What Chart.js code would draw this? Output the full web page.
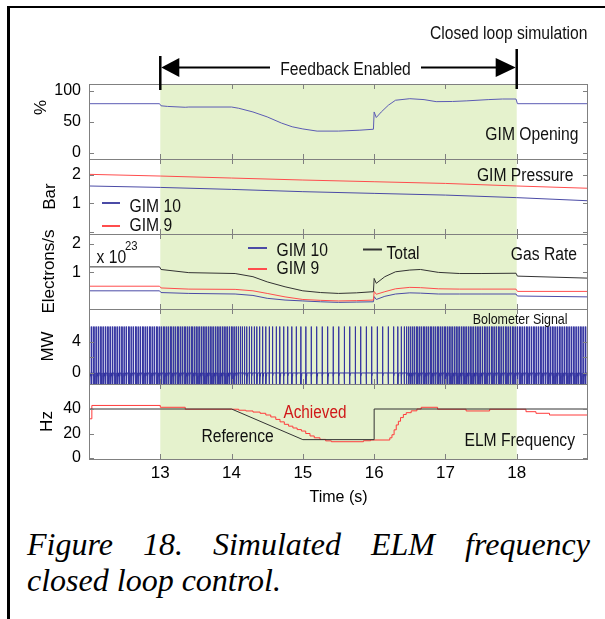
<!DOCTYPE html>
<html>
<head>
<meta charset="utf-8">
<script src="https://cdn.jsdelivr.net/npm/chart.js@4.4.1/dist/chart.umd.min.js"></script>
<style>
  body { margin: 0; background: #fff; }
  #wrap { position: relative; width: 605px; height: 619px; overflow: hidden; }
  #chart { position: absolute; left: 0; top: 0; }
  #lineTop { position: absolute; left: 7px; top: 6px; width: 598px; height: 2px; background: #000; }
  #lineLeft { position: absolute; left: 7px; top: 6px; width: 3px; height: 613px; background: #000; }
  .cap { position: absolute; left: 27px; width: 563px; font: italic 32px "Liberation Serif", "Times New Roman", serif; line-height: 36px; color: #000; }
  #cap1 { top: 526px; text-align: justify; text-align-last: justify; }
  #cap2 { top: 562px; white-space: nowrap; }
</style>
</head>
<body>
<div id="wrap">
  <canvas id="chart" width="605" height="520"></canvas>
  <div id="lineTop"></div>
  <div id="lineLeft"></div>
  <div class="cap" id="cap1">Figure 18. Simulated ELM frequency</div>
  <div class="cap" id="cap2">closed loop control.</div>
</div>
<script>
// x axis
const timeTicks = [13, 14, 15, 16, 17, 18]
const feedbackWindow = [13, 18]

// GIM opening (%)
const openT = [12, 12.99, 13.01, 13.1, 13.35, 13.4, 14.0, 14.1, 14.3, 14.5, 14.7, 14.85, 15.0, 15.2, 15.5, 15.8, 15.99, 16.0, 16.03, 16.1, 16.2, 16.3, 16.5, 16.7, 16.87, 17.1, 17.3, 17.6, 17.8, 17.99, 18.01, 19]
const openV = [79.4, 79.4, 76, 75, 73.6, 74, 74, 72, 66, 58, 48, 42, 38.5, 35, 35, 36.5, 38, 66, 57, 66, 77, 85, 87.5, 86, 82.7, 83, 84, 86, 87, 87, 79.4, 79.4]
const openTicks = [0, 50, 100]
const openLabels = ['0', '50', '100']

// GIM pressure (Bar)
const presT = [12, 13, 14, 15, 16, 17, 18, 19]
const presGim10 = [1.61, 1.56, 1.49, 1.41, 1.35, 1.29, 1.20, 1.09]
const presGim9 = [2.02, 1.96, 1.89, 1.82, 1.76, 1.70, 1.61, 1.53]
const presTicks = [0, 1, 2]
const presLabels = ['', '1', '2']

// gas rate (x 10^23 electrons/s)
const gasT = [12, 12.99, 13.01, 13.4, 14.05, 14.3, 14.5, 14.75, 15.0, 15.25, 15.5, 15.75, 15.99, 16.0, 16.03, 16.15, 16.3, 16.5, 16.65, 16.9, 17.2, 17.5, 17.99, 18.01, 19]
const gasTotal = [1.19, 1.19, 1.10, 0.99, 0.96, 0.85, 0.67, 0.50, 0.36, 0.30, 0.27, 0.29, 0.33, 0.79, 0.62, 0.85, 1.02, 1.08, 1.10, 1.00, 0.96, 0.96, 0.97, 0.87, 0.80]
const gasGim9 = [0.52, 0.52, 0.46, 0.42, 0.41, 0.36, 0.27, 0.15, 0.06, 0.03, 0.01, 0.02, 0.04, 0.34, 0.24, 0.33, 0.43, 0.48, 0.47, 0.43, 0.42, 0.42, 0.42, 0.34, 0.34]
const gasGim10 = [0.36, 0.36, 0.30, 0.27, 0.25, 0.20, 0.10, 0.04, 0.01, -0.02, -0.04, -0.03, -0.02, 0.16, 0.06, 0.17, 0.25, 0.29, 0.28, 0.25, 0.25, 0.25, 0.25, 0.18, 0.15]
const gasTicks = [1, 2]
const gasLabels = ['1', '2']

// bolometer signal (MW): one spike per ELM
const spikeTimes = [
  12.010, 12.034, 12.059, 12.083, 12.108, 12.132, 12.157, 12.181, 12.206, 12.230,
  12.255, 12.279, 12.304, 12.328, 12.353, 12.377, 12.402, 12.426, 12.451, 12.475,
  12.500, 12.524, 12.549, 12.573, 12.598, 12.622, 12.647, 12.671, 12.696, 12.720,
  12.745, 12.769, 12.794, 12.818, 12.843, 12.867, 12.892, 12.916, 12.941, 12.965,
  12.990, 13.014, 13.039, 13.063, 13.088, 13.112, 13.137, 13.161, 13.186, 13.210,
  13.235, 13.259, 13.284, 13.308, 13.333, 13.357, 13.382, 13.406, 13.431, 13.455,
  13.480, 13.504, 13.529, 13.553, 13.578, 13.602, 13.627, 13.651, 13.676, 13.700,
  13.725, 13.749, 13.774, 13.798, 13.823, 13.847, 13.872, 13.896, 13.921, 13.945,
  13.970, 13.994, 14.019, 14.043, 14.068, 14.092,
  14.120, 14.150, 14.181, 14.213, 14.246, 14.280, 14.316, 14.354, 14.394, 14.436,
  14.480, 14.526, 14.574, 14.624, 14.676, 14.730, 14.786, 14.845, 14.907, 14.972,
  15.042, 15.117, 15.194, 15.271, 15.348, 15.425, 15.502, 15.579, 15.656, 15.733,
  15.810, 15.887, 15.964, 16.041, 16.118, 16.195, 16.272, 16.332, 16.380, 16.420,
  16.454, 16.485, 16.513, 16.539,
  16.563, 16.588, 16.612, 16.637, 16.661, 16.686, 16.710, 16.735, 16.759, 16.784,
  16.808, 16.833, 16.857, 16.882, 16.906, 16.931, 16.955, 16.980, 17.004, 17.029,
  17.053, 17.078, 17.102, 17.127, 17.151, 17.176, 17.200, 17.225, 17.249, 17.274,
  17.298, 17.323, 17.347, 17.372, 17.396, 17.421, 17.445, 17.470, 17.494, 17.519,
  17.543, 17.568, 17.592, 17.617, 17.641, 17.666, 17.690, 17.715, 17.739, 17.764,
  17.788, 17.813, 17.837, 17.862, 17.886, 17.911, 17.935, 17.960, 17.984, 18.009,
  18.033, 18.058, 18.082, 18.107, 18.131, 18.156, 18.180, 18.205, 18.229, 18.254,
  18.278, 18.303, 18.327, 18.352, 18.376, 18.401, 18.425, 18.450, 18.474, 18.499,
  18.523, 18.548, 18.572, 18.597, 18.621, 18.646, 18.670, 18.695, 18.719, 18.744,
  18.768, 18.793, 18.817, 18.842, 18.866, 18.891, 18.915, 18.940, 18.964, 18.989
]
const boloPeak = 5.9
const boloFloor = -1.4
const boloTail = -0.4
const boloTicks = [0, 2, 4]
const boloLabels = ['0', '', '4']

// ELM frequency (Hz)
const refT = [12, 14, 15, 16, 16, 19]
const refV = [40, 40, 15, 15, 40, 40]
const achT = [12.0, 12.04, 13.0, 13.35, 14.1, 14.2, 14.3, 14.4, 14.48, 14.55, 14.62, 14.68, 14.74, 14.8, 14.86, 14.92, 14.98, 15.04, 15.1, 15.16, 15.24, 15.32, 15.4, 15.85, 15.95, 16.22, 16.25, 16.28, 16.31, 16.34, 16.37, 16.41, 16.45, 16.52, 16.6, 16.66, 16.89, 17.29, 17.62, 18.13, 18.27, 18.46, 19.0]
const achV = [32, 42.9, 41.4, 39.8, 39.0, 38.4, 37.5, 36.5, 35.1, 33.5, 31.5, 29.5, 27.5, 26, 24.5, 23.2, 22, 20, 18, 16.5, 15.2, 14, 13.3, 14.1, 14.7, 16.5, 19, 23, 27, 30, 33, 35.5, 37, 38.5, 40, 41.4, 39.8, 38.4, 39.8, 37.8, 36.5, 35.1, 35.1]
const elmTicks = [0, 20, 40]
const elmLabels = ['0', '20', '40']

const pts = (xs, ys) => xs.map((x, i) => ({ x: x, y: ys[i] }))

let boloPts = [{ x: 12, y: 0 }]
spikeTimes.forEach(t => {
  boloPts.push({ x: t, y: 0 }, { x: t, y: boloPeak }, { x: t, y: boloFloor }, { x: t + 0.005, y: boloTail }, { x: t + 0.012, y: 0 })
})
boloPts.push({ x: 19, y: 0 })

Chart.defaults.font.family = '"Liberation Sans", Arial, sans-serif'
Chart.defaults.color = '#000'

function panelAxis(weight, min, max, ticks, labels, title, titlePad) {
  return {
    type: 'linear',
    position: 'left',
    stack: 'panels',
    stackWeight: 1,
    weight: weight,
    min: min,
    max: max,
    grid: { display: false, drawTicks: false },
    border: { display: false },
    afterBuildTicks: s => { s.ticks = ticks.map(v => ({ value: v })) },
    afterFit: s => { s.width = 79 },
    ticks: {
      autoSkip: false,
      padding: 8,
      font: { size: 16 },
      callback: (v, i) => labels[i]
    },
    title: { display: true, text: title, font: { size: 17 }, padding: { top: titlePad, bottom: 0 } }
  }
}

function text(ctx, s, x, y, opt) {
  opt = opt || {}
  ctx.save()
  ctx.font = (opt.size || 18) + 'px "Liberation Sans", Arial, sans-serif'
  ctx.fillStyle = opt.color || '#111'
  ctx.textAlign = opt.align || 'left'
  ctx.textBaseline = 'alphabetic'
  ctx.translate(x, y)
  ctx.scale(opt.sx || 0.87, 1)
  ctx.fillText(s, 0, 0)
  ctx.restore()
}

function seg(ctx, x1, y1, x2, y2) {
  ctx.beginPath()
  ctx.moveTo(x1, y1)
  ctx.lineTo(x2, y2)
  ctx.stroke()
}

const panelIds = ['yOpen', 'yPres', 'yGas', 'yBolo', 'yElm']

const decor = {
  id: 'decor',
  beforeDatasetsDraw(chart) {
    const { ctx, chartArea: a, scales } = chart
    const x0 = scales.x.getPixelForValue(feedbackWindow[0])
    const x1 = scales.x.getPixelForValue(feedbackWindow[1])
    ctx.save()
    ctx.fillStyle = 'rgb(229,242,205)'
    ctx.fillRect(x0, a.top, x1 - x0, a.bottom - a.top)
    ctx.restore()
  },
  afterDatasetsDraw(chart) {
    const { ctx, chartArea: a, scales } = chart
    ctx.save()
    // panel frames and inner ticks
    ctx.strokeStyle = '#808080'
    ctx.lineWidth = 1
    panelIds.forEach(id => {
      const s = scales[id]
      ctx.strokeRect(a.left + 0.5, Math.round(s.top) + 0.5, a.right - a.left - 1, Math.round(s.bottom - s.top))
      s.ticks.forEach(t => {
        const py = Math.round(s.getPixelForValue(t.value)) + 0.5
        seg(ctx, a.left, py, a.left + 5, py)
        seg(ctx, a.right - 5, py, a.right, py)
      })
      scales.x.ticks.forEach(t => {
        const px = Math.round(scales.x.getPixelForValue(t.value)) + 0.5
        seg(ctx, px, s.top, px, s.top + 5)
        seg(ctx, px, s.bottom - 5, px, s.bottom)
      })
    })

    // feedback arrow
    const x0 = scales.x.getPixelForValue(feedbackWindow[0])
    const x1 = scales.x.getPixelForValue(feedbackWindow[1])
    const ya = 67.5
    ctx.strokeStyle = '#000'
    ctx.fillStyle = '#000'
    ctx.lineWidth = 2.5
    seg(ctx, x0, 56, x0, 90)
    seg(ctx, x1, 49, x1, 89)
    ctx.lineWidth = 2
    seg(ctx, x0 + 15, ya, 270, ya)
    seg(ctx, 421, ya, x1 - 15, ya)
    ctx.beginPath()
    ctx.moveTo(x0 + 1, ya)
    ctx.lineTo(x0 + 19, ya - 9.5)
    ctx.lineTo(x0 + 19, ya + 9.5)
    ctx.closePath()
    ctx.fill()
    ctx.beginPath()
    ctx.moveTo(x1 - 1, ya)
    ctx.lineTo(x1 - 21, ya - 9.5)
    ctx.lineTo(x1 - 21, ya + 9.5)
    ctx.closePath()
    ctx.fill()

    // legend swatches
    ctx.lineWidth = 2
    ctx.strokeStyle = '#4b4ba6'
    seg(ctx, 102, 203, 120, 203)
    seg(ctx, 248, 248, 267, 248)
    ctx.strokeStyle = '#ff4d4d'
    seg(ctx, 102, 226, 120, 226)
    seg(ctx, 248, 269, 267, 269)
    ctx.strokeStyle = '#333'
    seg(ctx, 363, 249.5, 382, 249.5)
    ctx.restore()

    text(ctx, 'Closed loop simulation', 587.5, 38.5, { align: 'right' })
    text(ctx, 'Feedback Enabled', 345.5, 75, { align: 'center' })
    text(ctx, 'GIM Opening', 578.5, 140, { align: 'right' })
    text(ctx, 'GIM Pressure', 573.5, 180.5, { align: 'right' })
    text(ctx, 'GIM 10', 129.5, 211.5)
    text(ctx, 'GIM 9', 129.5, 231)
    text(ctx, 'Gas Rate', 577, 260, { align: 'right' })
    text(ctx, 'GIM 10', 276.5, 256)
    text(ctx, 'GIM 9', 276.5, 274)
    text(ctx, 'Total', 386.5, 258.5)
    text(ctx, 'x 10', 96.5, 262.5)
    text(ctx, '23', 125, 250, { size: 13 })
    text(ctx, 'Bolometer Signal', 567.5, 324, { align: 'right', size: 15, sx: 0.83 })
    text(ctx, 'Achieved', 283.5, 417.5, { color: '#d01818', sx: 0.85 })
    text(ctx, 'Reference', 201.5, 441.5)
    text(ctx, 'ELM Frequency', 575, 446, { align: 'right' })
  }
}

const data = {
  datasets: [
    { data: pts(openT, openV), yAxisID: 'yOpen', borderColor: '#5c5cb4' },
    { data: pts(presT, presGim10), yAxisID: 'yPres', borderColor: '#4b4ba6' },
    { data: pts(presT, presGim9), yAxisID: 'yPres', borderColor: '#ff4d4d' },
    { data: pts(gasT, gasTotal), yAxisID: 'yGas', borderColor: '#333333' },
    { data: pts(gasT, gasGim9), yAxisID: 'yGas', borderColor: '#ff4d4d' },
    { data: pts(gasT, gasGim10), yAxisID: 'yGas', borderColor: '#4b4ba6' },
    { data: boloPts, yAxisID: 'yBolo', borderColor: '#3434a0' },
    { data: pts(refT, refV), yAxisID: 'yElm', borderColor: '#333333' },
    { data: pts(achT, achV), yAxisID: 'yElm', borderColor: '#ff3b3b', stepped: true }
  ]
}

const config = {
  type: 'line',
  data: data,
  options: {
    responsive: false,
    animation: false,
    events: [],
    layout: { padding: { top: 84, left: 10, right: 17, bottom: 0 } },
    elements: {
      point: { radius: 0 },
      line: { borderWidth: 1, tension: 0 }
    },
    plugins: { legend: { display: false }, tooltip: { enabled: false } },
    scales: {
      x: {
        type: 'linear',
        position: 'bottom',
        min: 12,
        max: 19,
        grid: { display: false, drawTicks: false },
        border: { display: false },
        afterBuildTicks: s => { s.ticks = timeTicks.map(v => ({ value: v })) },
        afterFit: s => { s.height = 61 },
        ticks: { autoSkip: false, maxRotation: 0, padding: 4, font: { size: 17 } },
        title: { display: true, text: 'Time (s)', font: { size: 16 }, padding: { top: 0, bottom: 13 } }
      },
      yOpen: panelAxis(5, -10.2, 111.3, openTicks, openLabels, '\u00a0\u00a0\u00a0\u00a0\u00a0\u00a0%', 21.5),
      yPres: panelAxis(4, -0.08, 2.56, presTicks, presLabels, 'Bar', 30.5),
      yGas: panelAxis(3, -0.27, 2.33, gasTicks, gasLabels, 'Electrons/s', 28.8),
      yBolo: panelAxis(2, -1.4, 8.13, boloTicks, boloLabels, 'MW', 28),
      yElm: panelAxis(1, -0.8, 60.4, elmTicks, elmLabels, 'Hz', 27.3)
    }
  },
  plugins: [decor]
}

const myChart = new Chart(document.getElementById('chart'), config)
</script>
</body>
</html>
